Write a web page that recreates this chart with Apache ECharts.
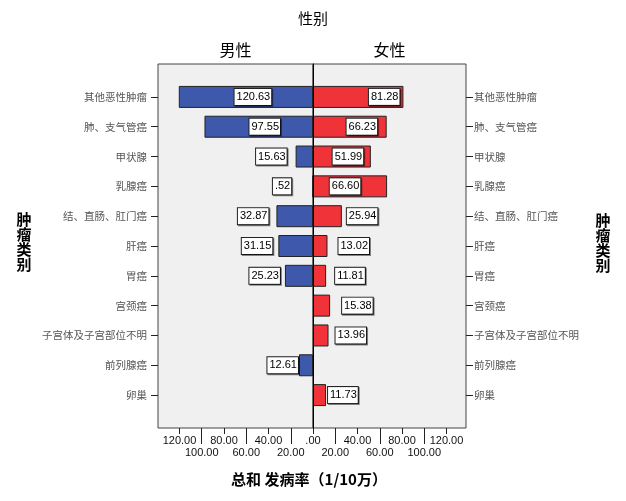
<!DOCTYPE html>
<html><head><meta charset="utf-8">
<script src="https://cdn.jsdelivr.net/npm/echarts@6/dist/echarts.min.js"></script>
<style>html,body{margin:0;padding:0;background:#fff}#c{width:626px;height:501px}</style>
</head><body><div id="c"></div>
<script>
// ---- data ----
const categories = ['其他恶性肿瘤','肺、支气管癌','甲状腺','乳腺癌','结、直肠、肛门癌','肝癌','胃癌','宫颈癌','子宫体及子宫部位不明','前列腺癌','卵巢'];
const maleValues   = [120.63, 97.55, 15.63, 0.52, 32.87, 31.15, 25.23, null, null, 12.61, null];
const femaleValues = [81.28, 66.23, 51.99, 66.60, 25.94, 13.02, 11.81, 15.38, 13.96, null, 11.73];
const tickRow1 = [0, 40, 80, 120];
const tickRow2 = [20, 60, 100];
const groupNames = ['男性', '女性'];

// ---- label placement (style only) ----
const maleLabelPlace = [
  {position:'inside', offset:[7,0]}, {position:'inside', offset:[6,0]},
  {position:'left', distance:9}, {position:'left', distance:21},
  {position:'left', distance:8}, {position:'left', distance:6},
  {position:'left', distance:5}, null, null,
  {position:'left', distance:1}, null
];
const femaleLabelPlace = [
  {position:'inside', offset:[26,0]}, {position:'inside', offset:[12,0]},
  {position:'inside', offset:[6,0]}, {position:'inside', offset:[-5,0]},
  {position:'right', distance:5}, {position:'right', distance:11},
  {position:'right', distance:9}, {position:'right', distance:12},
  {position:'right', distance:7}, null,
  {position:'right', distance:2}
];

const numFont = 'Liberation Sans, Arial, sans-serif';
const cjkFont = 'Noto Sans CJK SC, sans-serif';
const fmt = v => { const s = Number(v).toFixed(2); return s.replace(/^0\./, '.'); };

const labelBox = {
  show: true, formatter: p => fmt(p.value), color: '#000', fontSize: 11, fontFamily: numFont,
  backgroundColor: '#fff', borderColor: '#222', borderWidth: 1, padding: [3,1,2,2],
  shadowColor: 'rgba(0,0,0,0.45)', shadowOffsetX: 1, shadowOffsetY: 1, shadowBlur: 0
};
const buildData = (vals, place) => vals.map((v, i) => v == null ? null :
  { value: v, label: Object.assign({}, labelBox, place[i] || {}) });

// ---- layout ----
const frameTop = 64, frameH = 364, barTop = 82, barH = 328;
const leftX = 158, leftW = 155, rightX = 313, rightW = 153;
const pxPerUnit = 1.1125;
const leftMax = leftW / pxPerUnit, rightMax = rightW / pxPerUnit;
const axisOffset = (frameTop + frameH) - (barTop + barH);

function xAx(grid, inverse, max, ticks, tickLen, labels, margin) {
  return {
    type: 'value', gridIndex: grid, inverse: inverse, min: 0, max: max, position: 'bottom', offset: axisOffset,
    axisLine: {show: false, onZero: false}, splitLine: {show: false},
    axisTick: {show: true, customValues: ticks, length: tickLen, lineStyle: {color: '#222', width: 1}},
    axisLabel: {show: true, customValues: labels, margin: margin, fontSize: 11, color: '#111', fontFamily: numFont,
      formatter: v => v === 0 ? '.00' : Number(v).toFixed(2)}
  };
}

const option = {
  animation: false,
  backgroundColor: '#fff',
  title: [
    {text: '性别', left: 313, top: 11, textAlign: 'center', padding: 0,
      textStyle: {fontSize: 15, fontWeight: 'normal', color: '#000', fontFamily: cjkFont}},
    {text: groupNames[0], left: leftX + leftW / 2, top: 42, textAlign: 'center', padding: 0,
      textStyle: {fontSize: 16, fontWeight: 'normal', color: '#000', fontFamily: cjkFont}},
    {text: groupNames[1], left: rightX + rightW / 2, top: 42, textAlign: 'center', padding: 0,
      textStyle: {fontSize: 16, fontWeight: 'normal', color: '#000', fontFamily: cjkFont}},
    {text: '总和 发病率（1/10万）', left: 309, top: 472, textAlign: 'center', padding: 0,
      textStyle: {fontSize: 15, fontWeight: 'bold', color: '#000', fontFamily: cjkFont}},
    {text: '肿\n瘤\n类\n别', left: 24, top: 212, textAlign: 'center', padding: 0,
      textStyle: {fontSize: 15, lineHeight: 15, fontWeight: 'bold', color: '#000', fontFamily: cjkFont}},
    {text: '肿\n瘤\n类\n别', left: 603, top: 213, textAlign: 'center', padding: 0,
      textStyle: {fontSize: 15, lineHeight: 15, fontWeight: 'bold', color: '#000', fontFamily: cjkFont}}
  ],
  grid: [
    {left: leftX, top: barTop, width: leftW, height: barH, show: false},
    {left: rightX, top: barTop, width: rightW, height: barH, show: false},
    {left: leftX, top: frameTop, width: leftW, height: frameH, show: true, backgroundColor: '#f0f0f0', borderColor: '#444', borderWidth: 1, z: -1},
    {left: rightX, top: frameTop, width: rightW, height: frameH, show: true, backgroundColor: '#f0f0f0', borderColor: '#444', borderWidth: 1, z: -1}
  ],
  xAxis: [
    xAx(0, true, leftMax, tickRow1, 6, tickRow1, 7),
    xAx(0, true, leftMax, tickRow2, 16, tickRow2, 19),
    xAx(1, false, rightMax, tickRow1, 6, tickRow1.filter(v => v !== 0), 7),
    xAx(1, false, rightMax, tickRow2, 16, tickRow2, 19),
    {type: 'value', gridIndex: 2, show: false, min: 0, max: 1},
    {type: 'value', gridIndex: 3, show: false, min: 0, max: 1}
  ],
  yAxis: [
    {type: 'category', gridIndex: 0, data: categories, inverse: true, position: 'left',
      axisLine: {show: false, onZero: false}, axisTick: {show: true, alignWithLabel: true, length: 7, lineStyle: {color: '#222'}},
      axisLabel: {margin: 11, fontSize: 10.5, color: '#555', fontFamily: cjkFont}},
    {type: 'category', gridIndex: 1, data: categories, inverse: true, position: 'right',
      axisLine: {show: false, onZero: false}, axisTick: {show: true, alignWithLabel: true, length: 7, lineStyle: {color: '#222'}},
      axisLabel: {margin: 8, fontSize: 10.5, color: '#555', fontFamily: cjkFont}},
    {type: 'value', gridIndex: 2, position: 'right', min: 0, max: 1, z: 10,
      axisLine: {show: true, onZero: false, lineStyle: {color: '#000', width: 1}},
      axisTick: {show: false}, axisLabel: {show: false}, splitLine: {show: false}},
    {type: 'value', gridIndex: 3, show: false, min: 0, max: 1}
  ],
  series: [
    {name: groupNames[0], type: 'bar', xAxisIndex: 0, yAxisIndex: 0, barWidth: 22,
      itemStyle: {color: '#3e58ab', borderColor: '#222', borderWidth: 1},
      data: buildData(maleValues, maleLabelPlace), z: 3},
    {name: groupNames[1], type: 'bar', xAxisIndex: 2, yAxisIndex: 1, barWidth: 22,
      itemStyle: {color: '#ef3339', borderColor: '#222', borderWidth: 1},
      data: buildData(femaleValues, femaleLabelPlace), z: 3}
  ]
};
const chart = echarts.init(document.getElementById('c'), null, {renderer: 'canvas'});
chart.setOption(option);
</script></body></html>
